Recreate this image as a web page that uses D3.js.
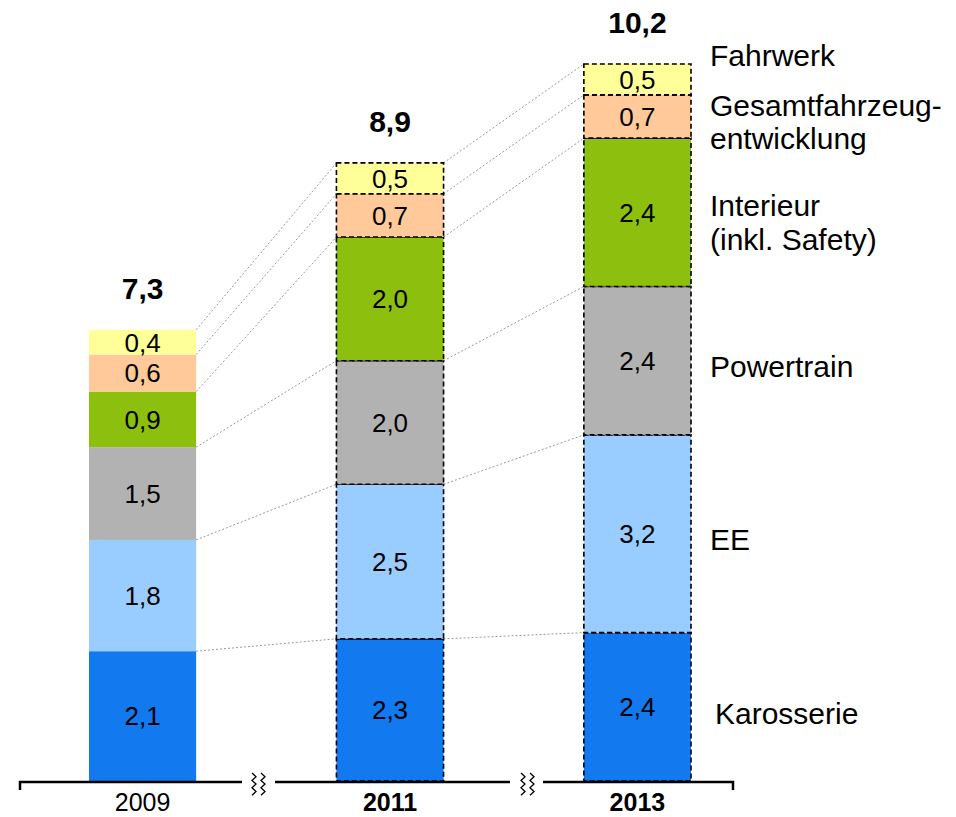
<!DOCTYPE html>
<html>
<head>
<meta charset="utf-8">
<script src="https://cdn.jsdelivr.net/npm/d3@7"></script>
<style>
  body { margin: 0; background: #fff; }
  svg { display: block; font-family: Arial, "Liberation Sans", sans-serif; }
</style>
</head>
<body>
<script>
// data
var years = ["2009", "2011", "2013"];
var categories = ["Karosserie", "EE", "Powertrain", "Interieur", "Gesamtfahrzeugentwicklung", "Fahrwerk"];
var values2009 = [2.1, 1.8, 1.5, 0.9, 0.6, 0.4];
var values2011 = [2.3, 2.5, 2.0, 2.0, 0.7, 0.5];
var values2013 = [2.4, 3.2, 2.4, 2.4, 0.7, 0.5];
var totals = ["7,3", "8,9", "10,2"];
var legendLines = [["Karosserie"], ["EE"], ["Powertrain"], ["Interieur", "(inkl. Safety)"], ["Gesamtfahrzeug-", "entwicklung"], ["Fahrwerk"]];

var colors = ["#1279ee", "#99ccff", "#b2b2b2", "#8dbf0f", "#ffc999", "#ffff99"];
var allValues = [values2009, values2011, values2013];

var width = 956, height = 817;
var svg = d3.select("body").append("svg").attr("width", width).attr("height", height);

var x = d3.scaleBand().domain(years).range([89, 691]).paddingInner(0.567).paddingOuter(0);
var y = d3.scaleLinear().domain([0, 11.6]).range([781, 64]);
var bw = x.bandwidth();

// stacked segments
var stacks = allValues.map(function(vals, i) {
    var acc = 0;
    return vals.map(function(v, j) {
        var seg = {year: years[i], idx: i, cat: j, y0: acc, y1: acc + v, value: v};
        acc += v;
        return seg;
    });
});

var fmt = function(v){ return d3.format(".1f")(v).replace(".", ","); };

// connector lines (behind bars)
for (var i = 0; i < years.length - 1; i++) {
    stacks[i].forEach(function(s, j) {
        var n = stacks[i + 1][j];
        svg.append("line")
            .attr("x1", x(years[i]) + bw).attr("y1", y(s.y1))
            .attr("x2", x(years[i + 1])).attr("y2", y(n.y1))
            .attr("stroke", "#999").attr("stroke-width", 1)
            .attr("stroke-dasharray", "2,2");
    });
}

var bars = svg.selectAll("g.bar").data(stacks).enter().append("g").attr("class", "bar");

bars.selectAll("rect").data(function(d){ return d; }).enter().append("rect")
    .attr("x", function(d){ return x(d.year); })
    .attr("y", function(d){ return y(d.y1); })
    .attr("width", bw)
    .attr("height", function(d){ return y(d.y0) - y(d.y1); })
    .attr("fill", function(d){ return colors[d.cat]; })
    .attr("stroke", function(d){ return d.idx > 0 ? "#000" : "none"; })
    .attr("stroke-width", 1.6)
    .attr("stroke-dasharray", "5,3");

bars.selectAll("text").data(function(d){ return d; }).enter().append("text")
    .attr("x", function(d){ return x(d.year) + bw / 2; })
    .attr("y", function(d){ return (y(d.y0) + y(d.y1)) / 2; })
    .attr("dy", "0.36em")
    .attr("text-anchor", "middle")
    .attr("font-size", 26)
    .attr("fill", "#000")
    .text(function(d){ return fmt(d.value); });

// totals
svg.selectAll("text.total").data(stacks).enter().append("text")
    .attr("class", "total")
    .attr("x", function(d){ return x(d[0].year) + bw / 2; })
    .attr("y", function(d){ return y(d[d.length - 1].y1) - 31; })
    .attr("text-anchor", "middle")
    .attr("font-size", 30)
    .attr("font-weight", "bold")
    .text(function(d, i){ return totals[i]; });

// axis with breaks
var axisY = 782;
var breaksX = [257, 526];
var axisG = svg.append("g").attr("stroke", "#000").attr("fill", "none").attr("stroke-width", 2.5);
axisG.append("path").attr("d", "M20," + (axisY + 8) + "V" + axisY + "H" + (breaksX[0] - 15));
axisG.append("path").attr("d", "M" + (breaksX[0] + 18) + "," + axisY + "H" + (breaksX[1] - 16));
axisG.append("path").attr("d", "M" + (breaksX[1] + 17) + "," + axisY + "H733V" + (axisY + 8));

breaksX.forEach(function(bx) {
    [-5, 4].forEach(function(off) {
        var pts = [];
        for (var k = 0; k <= 6; k++) {
            pts.push([bx + off + (k % 2 ? 4 : 0), 773 + k * 3.7]);
        }
        svg.append("path").attr("d", d3.line()(pts))
            .attr("fill", "none").attr("stroke", "#000").attr("stroke-width", 1.3);
    });
});

svg.selectAll("text.year").data(years).enter().append("text")
    .attr("class", "year")
    .attr("x", function(d){ return x(d) + bw / 2; })
    .attr("y", 811)
    .attr("text-anchor", "middle")
    .attr("font-size", 25)
    .attr("font-weight", function(d, i){ return i > 0 ? "bold" : "normal"; })
    .text(function(d){ return d; });

// legend labels on the right
var legendBase = [[715, 724], [710, 550], [710, 377], [710, 216, 250], [710, 116, 149], [710, 66]];
legendLines.forEach(function(lines, i) {
    lines.forEach(function(t, k) {
        svg.append("text")
            .attr("x", legendBase[i][0])
            .attr("y", legendBase[i][k + 1])
            .attr("font-size", 30)
            .text(t);
    });
});
</script>
</body>
</html>
